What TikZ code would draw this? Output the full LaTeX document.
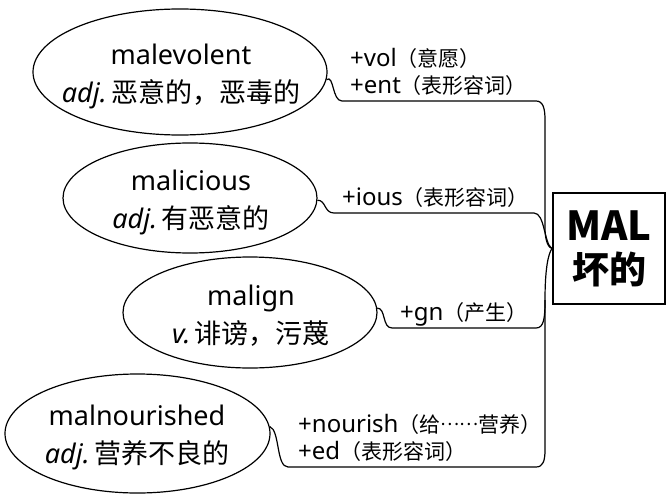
\documentclass[tikz,border=0pt]{standalone}
\usepackage{fontspec}
\setmainfont{Noto Sans}
\newfontfamily\cjk{Noto Sans CJK SC}
\newcommand\lcf{\cjk\fontsize{21}{27}\selectfont}
\usetikzlibrary{shapes.geometric}
\begin{document}
\begin{tikzpicture}[x=1pt,y=-1pt,
  oval/.style={ellipse, draw, line width=1.2pt, inner sep=0pt},
  word/.style={inner sep=0pt, align=center, anchor=base, font=\fontsize{27}{38}\selectfont},
  lbl/.style={inner sep=0pt, align=left, anchor=base west, font=\fontsize{24}{27}\selectfont},
  root/.style={draw, line width=2pt, inner sep=0pt, minimum width=112pt, minimum height=111pt, align=center, font=\cjk\bfseries\fontsize{40}{43}\selectfont},
  link/.style={line width=1.2pt}]
\useasboundingbox (0,0) rectangle (666,495);

\node[oval, minimum width=294pt, minimum height=126pt] (e1) at (180,72) {};
\node[oval, minimum width=254pt, minimum height=110pt] (e2) at (190,198) {};
\node[oval, minimum width=254pt, minimum height=111pt] (e3) at (250,312.5) {};
\node[oval, minimum width=265pt, minimum height=119pt] (e4) at (137.5,433.5) {};

% base anchor = baseline of the last line
\node[word] (t1) at (181,102) {malevolent\\\textit{adj.}\,{\cjk 恶意的，恶毒的}};
\node[word] (t2) at (191,228) {malicious\\\textit{adj.}\,{\cjk 有恶意的}};
\node[word] (t3) at (251,343) {malign\\\textit{v.}\,{\cjk 诽谤，污蔑}};
\node[word] (t4) at (137,463) {malnourished\\\textit{adj.}\,{\cjk 营养不良的}};

\node[root] (root) at (609,248.5) {MAL\\{\fontsize{37}{43}\selectfont 坏的}};

\node[lbl] (l1) at (350,93) {+vol{\lcf（意愿）}\\+ent{\lcf（表形容词）}};
\node[lbl] (l2) at (342,205) {+ious{\lcf（表形容词）}};
\node[lbl] (l3) at (400,320) {+gn{\lcf（产生）}};
\node[lbl] (l4) at (298,459) {+nourish{\lcf（给\raisebox{0.3em}{\fontsize{18}{27}\selectfont ……}营养）}\\+ed{\lcf（表形容词）}};

\coordinate (a1) at (342,101); \coordinate (b1) at (536,101);
\coordinate (a2) at (334,213); \coordinate (b2) at (534,213);
\coordinate (a3) at (392,328); \coordinate (b3) at (536,328);
\coordinate (a4) at (288,467); \coordinate (b4) at (536,467);

\draw[link] (e1.-3) .. controls (334,74) and (332,101) .. (a1) -- (b1)
  .. controls (543,101) and (545,108) .. (545,120) -- (545,228)
  .. controls (545,242) and (549,248) .. (root.west);
\draw[link] (e2.-1) .. controls (326,200) and (324,213) .. (a2) -- (b2)
  .. controls (545,213) and (544,244) .. (root.west);
\draw[link] (e3.2) .. controls (386,308) and (382,328) .. (a3) -- (b3)
  .. controls (544,328) and (545,318) .. (545,300)
  .. controls (545,270) and (548,254) .. (root.west);
\draw[link] (e4.3) .. controls (280,430) and (276,467) .. (a4) -- (b4)
  .. controls (543,467) and (545,461) .. (545,450) -- (545,300);
\end{tikzpicture}
\end{document}
